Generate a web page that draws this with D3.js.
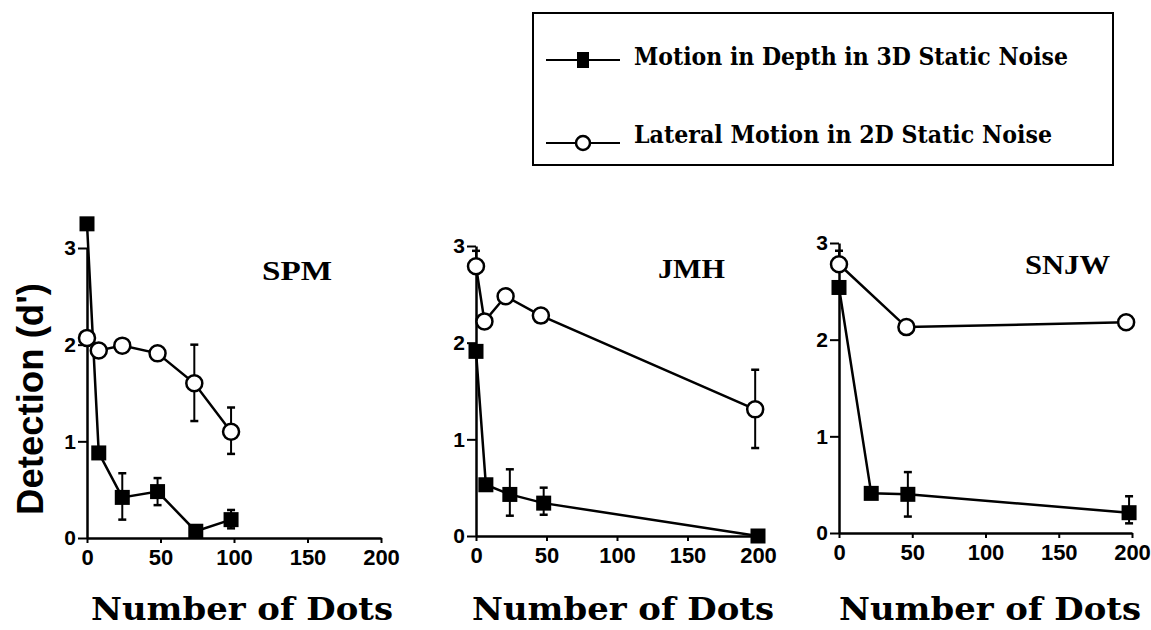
<!DOCTYPE html>
<meta charset="utf-8">
<style>
  body { margin: 0; background: #fff; }
  .tick text { font-family: "Liberation Sans", Arial, sans-serif; font-weight: bold; }
</style>
<div id="chart"></div>
<script src="https://d3js.org/d3.v7.min.js"></script>
<script>

// axis ticks shared by the three panels
const xTicks = [0, 50, 100, 150, 200];
const yTicks = [0, 1, 2, 3];

const seriesNames = ["Motion in Depth in 3D Static Noise", "Lateral Motion in 2D Static Noise"];

// observer SPM
const spmDepthX  = [0, 8, 24, 48, 74, 98];
const spmDepthY  = [3.25, 0.88, 0.42, 0.48, 0.07, 0.19];
const spmDepthLo = [null, null, 0.19, 0.34, null, 0.10];
const spmDepthHi = [null, null, 0.67, 0.62, null, 0.29];
const spmLatX  = [0, 8, 24, 48, 73, 98];
const spmLatY  = [2.07, 1.94, 1.99, 1.91, 1.60, 1.10];
const spmLatLo = [null, null, null, null, 1.21, 0.87];
const spmLatHi = [null, null, null, null, 2.00, 1.35];

// observer JMH
const jmhDepthX  = [0, 7, 24, 48, 200];
const jmhDepthY  = [1.91, 0.53, 0.43, 0.34, 0.0];
const jmhDepthLo = [null, null, 0.21, 0.22, null];
const jmhDepthHi = [null, null, 0.69, 0.50, null];
const jmhLatX  = [0, 6, 21, 46, 198];
const jmhLatY  = [2.79, 2.22, 2.48, 2.28, 1.31];
const jmhLatLo = [null, null, null, null, 0.91];
const jmhLatHi = [2.95, null, null, null, 1.72];

// observer SNJW
const snjwDepthX  = [0, 22, 47, 198];
const snjwDepthY  = [2.54, 0.41, 0.40, 0.21];
const snjwDepthLo = [null, null, 0.17, 0.10];
const snjwDepthHi = [null, null, 0.63, 0.38];
const snjwLatX  = [0, 46, 196];
const snjwLatY  = [2.78, 2.13, 2.18];
const snjwLatLo = [null, null, null];
const snjwLatHi = [2.92, null, null];

const panelNames = ["SPM", "JMH", "SNJW"];

let width = 1151, height = 630;

// pixel frame of each panel: x range for 0..200, y range for 0..3
let frames = [
  {x: [87, 381],  y: [538, 248], label: [262, 280, 70], title: [242, 620]},
  {x: [476, 758], y: [536, 246], label: [658, 278, 67], title: [623, 620]},
  {x: [839, 1132], y: [533, 243], label: [1025, 274, 85], title: [990, 620]}
];

function zipSeries(xs, ys, lo, hi) {
  return xs.map((x, i) => ({x: x, y: ys[i], lo: lo[i], hi: hi[i]}));
}

let panels = [
  {depth: zipSeries(spmDepthX, spmDepthY, spmDepthLo, spmDepthHi), lat: zipSeries(spmLatX, spmLatY, spmLatLo, spmLatHi)},
  {depth: zipSeries(jmhDepthX, jmhDepthY, jmhDepthLo, jmhDepthHi), lat: zipSeries(jmhLatX, jmhLatY, jmhLatLo, jmhLatHi)},
  {depth: zipSeries(snjwDepthX, snjwDepthY, snjwDepthLo, snjwDepthHi), lat: zipSeries(snjwLatX, snjwLatY, snjwLatLo, snjwLatHi)}
];

let svg = d3.select("#chart")
  .append("svg")
    .attr("width", width)
    .attr("height", height);

panels.forEach(function(p, i) {
  let f = frames[i];
  let x = d3.scaleLinear().domain([0, 200]).range(f.x);
  let y = d3.scaleLinear().domain([0, 3]).range(f.y);
  let g = svg.append("g").attr("class", "panel");

  // x axis
  let xa = g.append("g")
    .attr("transform", "translate(0," + f.y[0] + ")")
    .call(d3.axisBottom(x).tickValues(xTicks).tickFormat(d3.format("d")).tickSize(5).tickSizeOuter(0).tickPadding(6));
  xa.selectAll("text").style("font-size", "22px");

  // y axis
  let ya = g.append("g")
    .attr("transform", "translate(" + f.x[0] + ",0)")
    .call(d3.axisLeft(y).tickValues(yTicks).tickFormat(d3.format("d")).tickSize(9).tickSizeOuter(0).tickPadding(2));
  ya.selectAll("text").style("font-size", "21px");

  g.selectAll(".domain").attr("stroke-width", 2.5);
  g.selectAll(".tick line").attr("stroke-width", 2);

  let line = d3.line().x(d => x(d.x)).y(d => y(d.y));

  // error bars
  let errs = p.depth.concat(p.lat).filter(d => d.lo != null || d.hi != null);
  errs.forEach(function(d) {
    let top = d.hi != null ? d.hi : d.y;
    let bot = d.lo != null ? d.lo : d.y;
    g.append("line")
      .attr("x1", x(d.x)).attr("x2", x(d.x))
      .attr("y1", y(top)).attr("y2", y(bot))
      .attr("stroke", "black").attr("stroke-width", 2);
    [d.hi, d.lo].forEach(function(v) {
      if (v == null) return;
      g.append("line")
        .attr("x1", x(d.x) - 4).attr("x2", x(d.x) + 4)
        .attr("y1", y(v)).attr("y2", y(v))
        .attr("stroke", "black").attr("stroke-width", 2.5);
    });
  });

  // lines
  [p.depth, p.lat].forEach(function(s) {
    g.append("path")
      .datum(s)
      .attr("d", line)
      .attr("fill", "none")
      .attr("stroke", "black")
      .attr("stroke-width", 2.5);
  });

  // markers: filled squares, open circles
  g.selectAll(".sq")
    .data(p.depth)
    .enter()
    .append("rect")
      .attr("x", d => x(d.x) - 7.5)
      .attr("y", d => y(d.y) - 7.5)
      .attr("width", 15)
      .attr("height", 15)
      .attr("fill", "black");

  g.selectAll(".ci")
    .data(p.lat)
    .enter()
    .append("circle")
      .attr("cx", d => x(d.x))
      .attr("cy", d => y(d.y))
      .attr("r", 8)
      .attr("fill", "white")
      .attr("stroke", "black")
      .attr("stroke-width", 2.5);

  // observer label
  g.append("text")
    .attr("x", f.label[0])
    .attr("y", f.label[1])
    .attr("textLength", f.label[2])
    .attr("lengthAdjust", "spacingAndGlyphs")
    .style("font-family", "'Liberation Serif', 'Times New Roman', serif")
    .style("font-weight", "bold")
    .style("font-size", "28px")
    .text(panelNames[i]);

  // x axis title
  g.append("text")
    .attr("x", f.title[0])
    .attr("y", f.title[1])
    .attr("text-anchor", "middle")
    .attr("textLength", 302)
    .attr("lengthAdjust", "spacingAndGlyphs")
    .style("font-family", "'DejaVu Serif', serif")
    .style("font-weight", "bold")
    .style("font-size", "31px")
    .text("Number of Dots");
});

// y axis title
svg.append("text")
  .attr("transform", "translate(43,399) rotate(-90)")
  .attr("text-anchor", "middle")
  .attr("textLength", 232)
  .attr("lengthAdjust", "spacingAndGlyphs")
  .style("font-family", "'Liberation Sans', Arial, sans-serif")
  .style("font-weight", "bold")
  .style("font-size", "36px")
  .text("Detection (d')");

// legend
let legend = svg.append("g").attr("id", "legend");
legend.append("rect")
  .attr("x", 533).attr("y", 13)
  .attr("width", 580).attr("height", 152)
  .attr("fill", "none")
  .attr("stroke", "black")
  .attr("stroke-width", 2);

let legendRows = [
  {y: 60, text: 65, len: 434},
  {y: 143, text: 143, len: 418}
];
legendRows.forEach(function(r, i) {
  legend.append("line")
    .attr("x1", 546).attr("x2", 620)
    .attr("y1", r.y).attr("y2", r.y)
    .attr("stroke", "black").attr("stroke-width", 2);
  if (i == 0) {
    legend.append("rect")
      .attr("x", 577).attr("y", r.y - 8)
      .attr("width", 12).attr("height", 16)
      .attr("fill", "black");
  } else {
    legend.append("circle")
      .attr("cx", 583).attr("cy", r.y)
      .attr("r", 7)
      .attr("fill", "white")
      .attr("stroke", "black")
      .attr("stroke-width", 2.5);
  }
  legend.append("text")
    .attr("x", 634)
    .attr("y", r.text)
    .attr("textLength", r.len)
    .attr("lengthAdjust", "spacingAndGlyphs")
    .style("font-family", "'DejaVu Serif', serif")
    .style("font-weight", "bold")
    .style("font-size", "25px")
    .text(seriesNames[i]);
});

</script>
